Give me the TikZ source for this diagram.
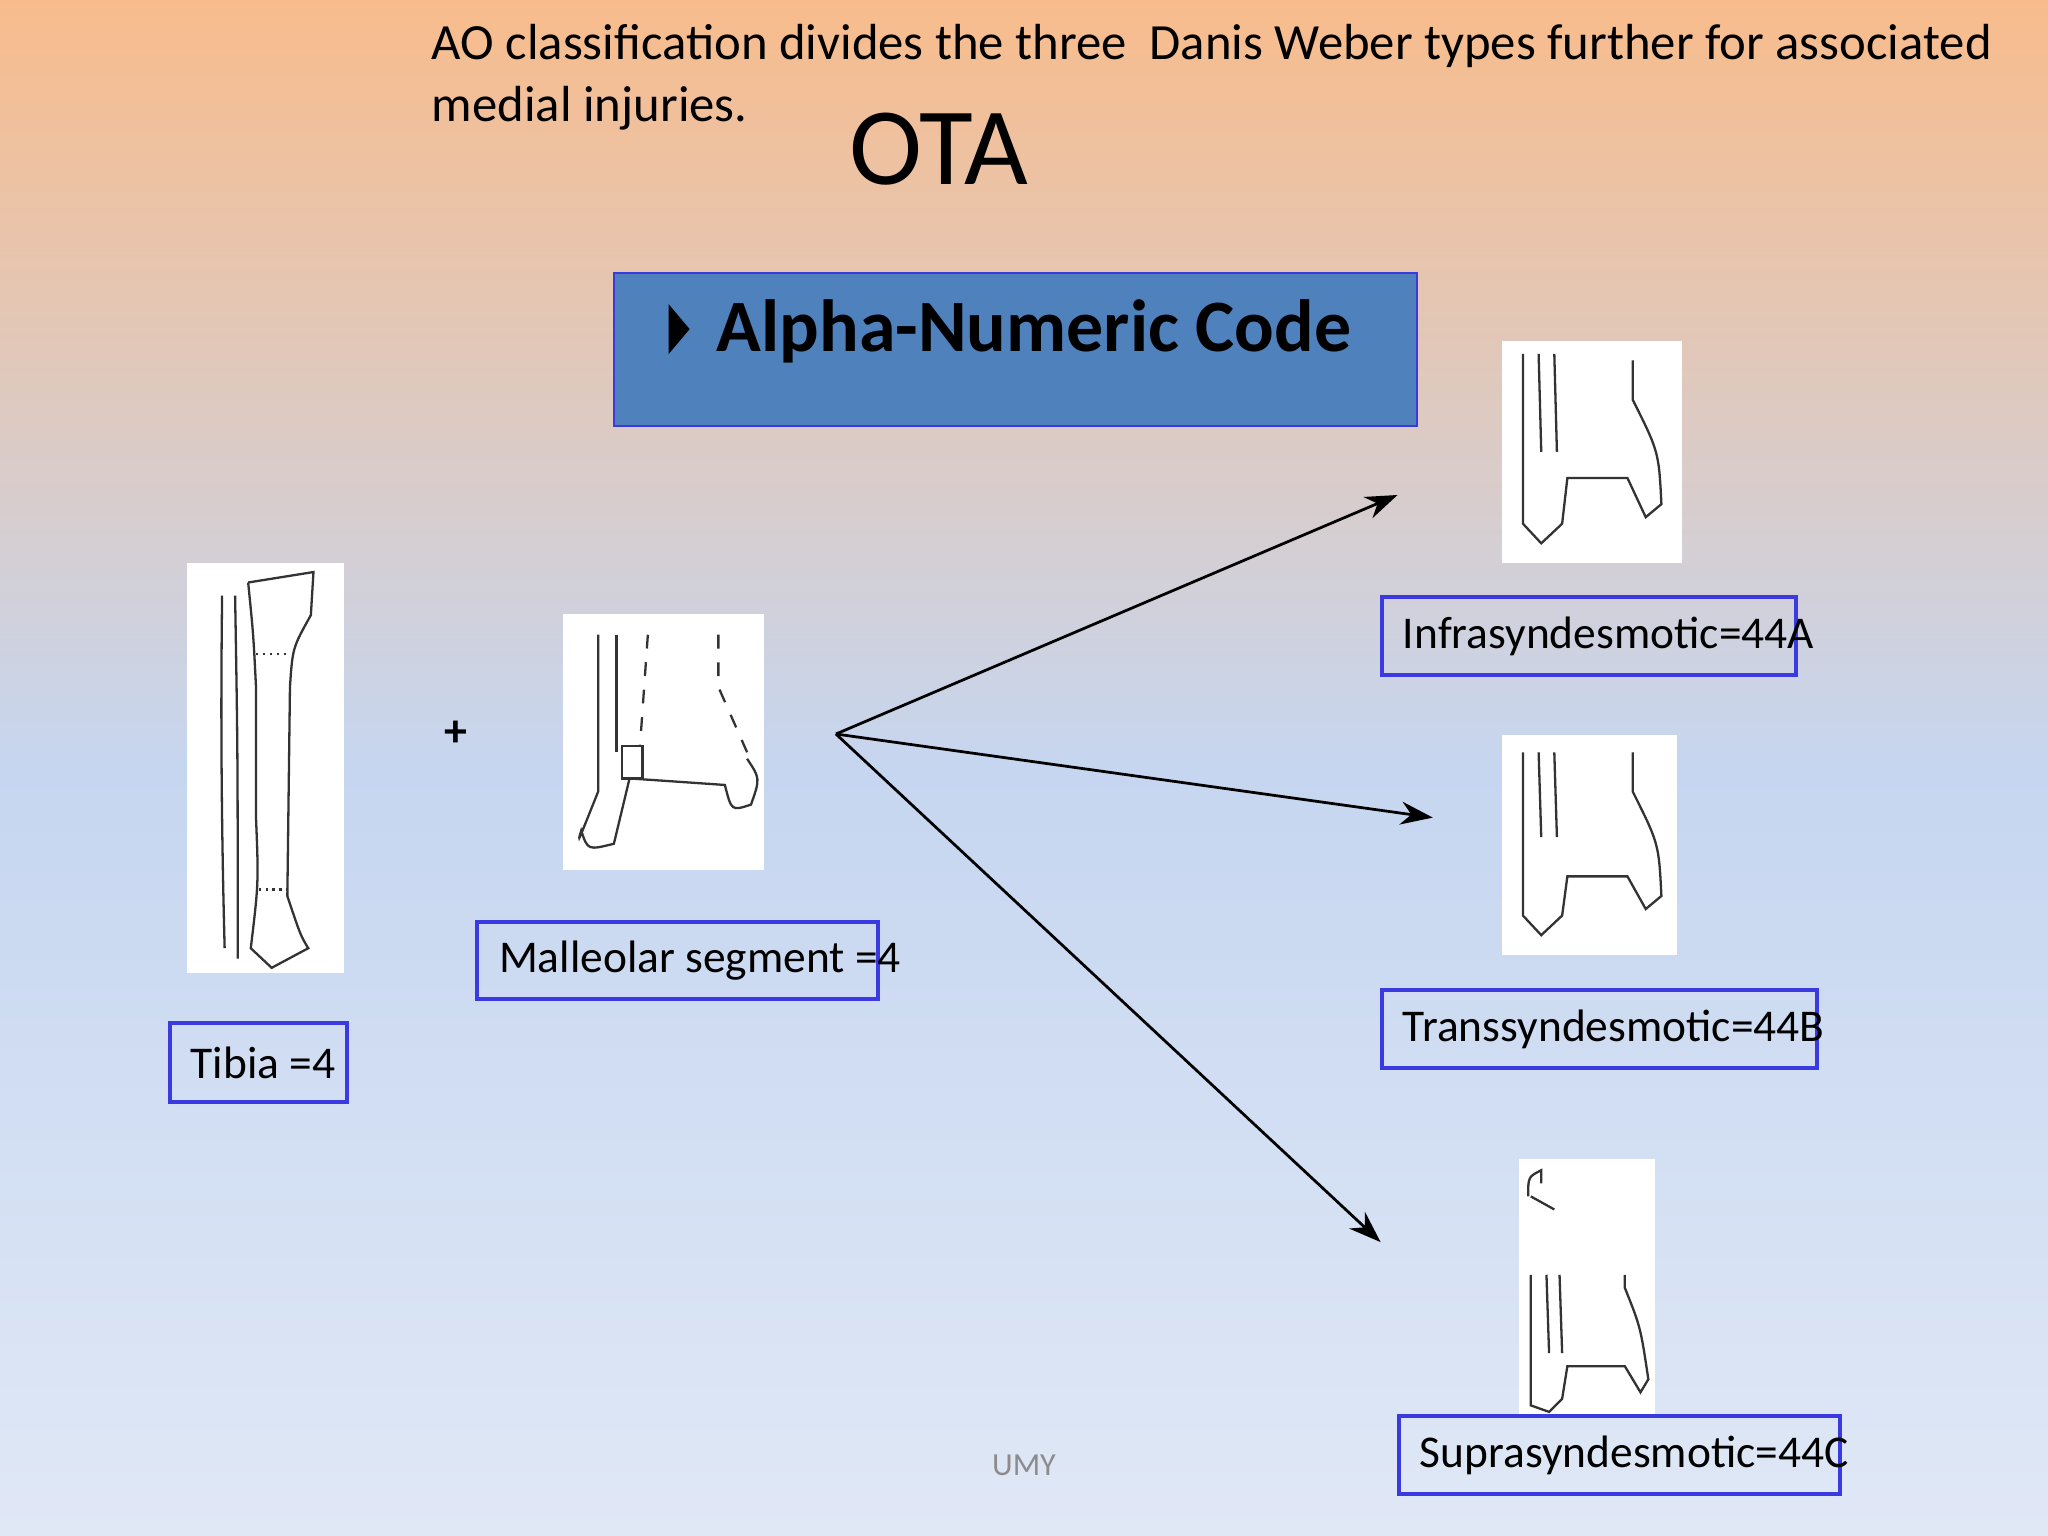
\documentclass[tikz,border=0pt]{standalone}
\usepackage{fontspec}
\setmainfont{Carlito}
\usepackage{tikz}
\usetikzlibrary{positioning, arrows.meta}
\definecolor{topc}{HTML}{F8BC8C}
\definecolor{midc}{HTML}{C6D6F0}
\definecolor{botc}{HTML}{E0E8F6}
\definecolor{codebox}{HTML}{4F81BD}
\definecolor{lboxc}{HTML}{3A3AE0}
\tikzset{
    lbox/.style={draw=lboxc, line width=0.9pt, minimum height=0.6cm, inner sep=0pt},
    ltext/.style={anchor=west, inner sep=0pt, font=\fontsize{9.9}{11}\selectfont},
    img/.style={fill=white, draw=none, inner sep=0pt},
    bone/.style={draw=black!80, line width=0.5pt},
    link/.style={-{Stealth[length=7pt,width=5pt]}, line width=0.6pt}
}
\begin{document}
\begin{tikzpicture}
    \shade[top color=topc, bottom color=botc, middle color=midc] (0,0) rectangle (15.68,11.76);
    \useasboundingbox (0,0) rectangle (15.68,11.76);

    %TEXTS
    \node (ao) [anchor=north west, inner sep=0pt, align=left, font=\fontsize{11.05}{13.5}\selectfont] at (3.30,11.58)
        {AO classification divides the three\ \ Danis Weber types further for associated\\medial injuries.};
    \node (ota) [inner sep=0pt, font=\fontsize{24}{26}\selectfont] at (7.19,10.62) {OTA};
    \node (code) [fill=codebox, draw=lboxc, minimum width=6.15cm, minimum height=1.17cm] at (7.775,9.085) {};
    \node (codetxt) [anchor=west, inner sep=0pt, font=\bfseries\fontsize{16.1}{18}\selectfont] at (5.48,9.22) {Alpha-Numeric Code};
    \fill (5.12,9.43) -- (5.28,9.24) -- (5.12,9.05) -- cycle;
    \node (plus) [font=\bfseries\fontsize{10}{12}\selectfont] at (3.49,6.14) {+};
    \node (umy) [text=black!45, font=\fontsize{7}{9}\selectfont] at (7.84,0.54) {UMY};

    %IMAGES
    \node (tibimg) [img, minimum width=1.20cm, minimum height=3.14cm] at (2.03,5.88) {};
    \node (malimg) [img, minimum width=1.54cm, minimum height=1.96cm] at (5.08,6.08) {};
    \node (infimg) [img, minimum width=1.38cm, minimum height=1.70cm] at (12.19,8.30) {};
    \node (trimg)  [img, minimum width=1.34cm, minimum height=1.69cm] at (12.17,5.29) {};
    \node (supimg) [img, minimum width=1.04cm, minimum height=1.95cm] at (12.15,1.91) {};

    %SKETCHES
    \draw[bone] (1.72,4.50) .. controls (1.68,6.0) and (1.70,7.0) .. (1.70,7.20) (1.82,4.42) .. controls (1.82,6.0) .. (1.80,7.20);
    \draw[bone] (1.90,7.30) -- (2.40,7.38) -- (2.38,7.05) .. controls (2.24,6.8) .. (2.22,6.5) -- (2.20,4.90) .. controls (2.30,4.60) .. (2.36,4.50) -- (2.08,4.35) -- (1.92,4.50) .. controls (1.98,5.0) .. (1.96,5.5) -- (1.96,6.5) .. controls (1.94,6.9) .. (1.90,7.30);
    \draw[bone, densely dotted] (1.96,6.75) -- (2.22,6.75) (1.98,4.95) -- (2.20,4.95);
    \draw[bone] (4.58,6.90) -- (4.58,5.70) .. controls (4.42,5.3) .. (4.45,5.40) .. controls (4.50,5.25) .. (4.70,5.30) -- (4.82,5.80) -- (5.55,5.75) .. controls (5.60,5.55) .. (5.75,5.60) .. controls (5.82,5.80) .. (5.72,5.95);
    \draw[bone] (4.72,6.90) -- (4.72,6.0);
    \draw[bone, dashed] (4.96,6.90) -- (4.90,6.05) (5.50,6.90) -- (5.50,6.50) -- (5.72,6.0);
    \draw[bone] (4.76,5.80) rectangle (4.92,6.05);
    \draw[bone] (11.66,9.05) -- (11.66,7.75) -- (11.80,7.60) -- (11.96,7.75) -- (12.00,8.10) -- (12.46,8.10) -- (12.60,7.80) -- (12.72,7.90) .. controls (12.70,8.3) .. (12.50,8.70) -- (12.50,9.00);
    \draw[bone] (11.78,9.05) -- (11.80,8.30) (11.90,9.05) -- (11.92,8.30);
    \draw[bone] (11.66,6.00) -- (11.66,4.75) -- (11.80,4.60) -- (11.96,4.75) -- (12.00,5.05) -- (12.46,5.05) -- (12.60,4.80) -- (12.72,4.90) .. controls (12.70,5.3) .. (12.50,5.70) -- (12.50,6.00);
    \draw[bone] (11.78,6.00) -- (11.80,5.35) (11.90,6.00) -- (11.92,5.35);
    \draw[bone] (11.70,2.60) .. controls (11.70,2.75) .. (11.80,2.80) -- (11.80,2.70) (11.72,2.60) -- (11.90,2.50);
    \draw[bone] (11.72,2.00) -- (11.72,1.00) -- (11.86,0.95) -- (11.96,1.05) -- (12.00,1.30) -- (12.44,1.30) -- (12.56,1.10) -- (12.62,1.20) .. controls (12.56,1.6) .. (12.44,1.90) -- (12.44,2.00);
    \draw[bone] (11.84,2.00) -- (11.86,1.40) (11.94,2.00) -- (11.96,1.40);

    %LABELS
    \node (tibia) [lbox, minimum width=1.36cm] at (1.98,3.625) {};
    \node [ltext] at ([xshift=0.17cm]tibia.west) {Tibia =4};
    \node (mall) [lbox, minimum width=3.07cm, minimum height=0.59cm] at (5.185,4.405) {};
    \node [ltext] at ([xshift=0.18cm]mall.west) {Malleolar segment =4};
    \node (infra) [lbox, minimum width=3.17cm] at (12.165,6.89) {};
    \node [ltext] at ([xshift=0.17cm]infra.west) {Infrasyndesmotic=44A};
    \node (trans) [lbox, minimum width=3.33cm] at (12.245,3.88) {};
    \node [ltext] at ([xshift=0.17cm]trans.west) {Transsyndesmotic=44B};
    \node (supra) [lbox, minimum width=3.38cm] at (12.40,0.62) {};
    \node [ltext] at ([xshift=0.17cm]supra.west) {Suprasyndesmotic=44C};

    %PATHS
    \coordinate (hub) at (6.40,6.14);
    \coordinate (tinf) at (10.70,7.97);
    \coordinate (ttr) at (10.97,5.50);
    \coordinate (tsup) at (10.57,2.25);
    \draw[link] (hub) -- (tinf);
    \draw[link] (hub) -- (ttr);
    \draw[link] (hub) -- (tsup);
\end{tikzpicture}
\end{document}
